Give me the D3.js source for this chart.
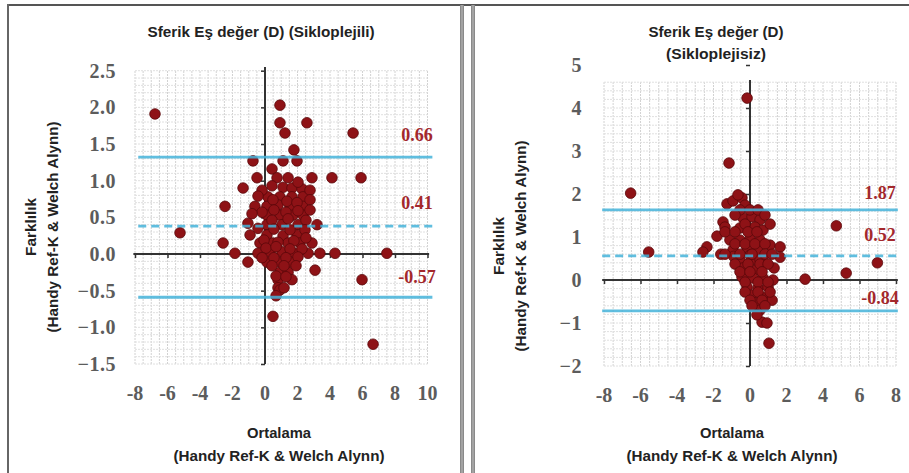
<!DOCTYPE html>
<html>
<head>
<meta charset="utf-8">
<script src="https://cdn.jsdelivr.net/npm/d3@7/dist/d3.min.js"></script>
<style>
  body { margin: 0; background: #fff; }
  svg { display: block; }
</style>
</head>
<body>
<svg id="chart" width="909" height="473"></svg>
<script>
// left panel: Sikloplejili
var leftX = [-6.77, -5.23, 0.92, 0.92, 1.23, 2.58, 5.42, 1.78, -0.74, 1.11, 1.97, 0.43, -0.49, 0.74, 1.42, 2.89, 4.12, 5.91,
  -1.35, 1.11, 1.66, 2.28, 0.18, 0.92, 1.66, 2.34, -2.46, -0.62, 0.12, 0.80, 1.54, 2.34, 0.12, 0.92, 1.72, 2.34,
  -1.05, 0.12, 1.05, 2.03, 3.2, -0.92, 0.12, 1.11, 1.97, -2.58, -0.31, 0.49, 1.42, 2.15, 2.89,
  -1.85, -0.43, 0.31, 1.05, 1.85, 2.65, 3.38, 4.31, 7.5, -1.05, 0.12, 0.92, 1.54, 3.08, 0.92, 1.42,
  0.8, 1.66, 5.97, 0.8, 0.92, 0.49, 6.65,
  -0.18, 0.43, 2.03, 2.77, 0.49, 1.35, 1.97, 2.77, -0.18, 0.55, 1.29, 2.03, 2.77, 0.43, 1.42, 2.52,
  -0.43, 0.55, 1.54, 2.46, -0.06, 0.80, 1.78, 2.52, 0.06, 0.68, 1.54, 2.28, -0.18, 0.55, 1.29, 2.03,
  0.43, 1.17, 1.91, 0.68, 1.29, 1.17, 0.68, -0.43, -0.80];
var leftY = [1.91, 0.29, 2.03, 1.79, 1.65, 1.79, 1.65, 1.42, 1.27, 1.27, 1.27, 1.16, 1.04, 1.04, 1.04, 1.04, 1.04, 1.04,
  0.90, 0.91, 0.90, 0.89, 0.78, 0.78, 0.78, 0.78, 0.65, 0.65, 0.65, 0.67, 0.65, 0.65, 0.53, 0.53, 0.53, 0.53,
  0.42, 0.40, 0.40, 0.40, 0.40, 0.26, 0.26, 0.25, 0.26, 0.15, 0.15, 0.15, 0.15, 0.15, 0.15,
  0.01, 0.01, 0.03, 0.03, 0.01, 0.01, 0.01, 0.01, 0.01, -0.11, -0.11, -0.11, -0.11, -0.22, -0.25, -0.25,
  -0.35, -0.35, -0.35, -0.46, -0.49, -0.85, -1.23,
  0.87, 0.93, 0.98, 0.87, 0.74, 0.72, 0.70, 0.74, 0.57, 0.60, 0.57, 0.59, 0.60, 0.46, 0.48, 0.46,
  0.35, 0.34, 0.33, 0.33, 0.19, 0.16, 0.18, 0.22, 0.08, 0.10, 0.07, 0.07, -0.05, -0.05, -0.05, -0.04,
  -0.16, -0.16, -0.16, -0.30, -0.31, -0.46, -0.57, 0.79, 0.55];
var leftLimits = [1.32, 0.38, -0.59];        // drawn line positions
var leftLabels = ["0.66", "0.41", "-0.57"];  // printed labels
var leftYTicks = [-1.5, -1.0, -0.5, 0.0, 0.5, 1.0, 1.5, 2.0, 2.5];
var leftXTicks = [-8, -6, -4, -2, 0, 2, 4, 6, 8, 10];

// right panel: Sikloplejisiz
var rightX = [-0.16, -1.15, -6.54, -1.26, -0.93, -0.44, -0.27, -0.66, 4.73, -1.48, -1.37, -0.38, 0.11, 0.55, -0.55, 0.27, 0.71,
  -1.81, -1.10, -0.55, 0, 0.55, 1.10, 1.65, -2.36, -2.58, -0.93, -0.16, 0.44, -5.55, 1.65, -0.55, 0.11, 0.55,
  1.32, -0.38, 0.27, -0.44, 0.16, 0.71, 1.26, 3.02, 5.27, 6.98, -0.16, 0.44, 0.99, 0.11, 0.71, 1.21, 0.27,
  0.55, 0.66, 0.93, 1.04, -1.6, -0.9, 0.0,
  -0.55, 0, 0.44, -0.82, 0.82, -0.27, 1.10, -1.37, -0.82, -0.11, 0.38, -0.82, -0.27, 0.27, 0.82,
  -1.37, -0.55, 0.11, 0.82, 1.21, -0.82, -0.11, 0.55, 0.99, -0.55, 0, 0.66, -0.27, 0.44, 0.99,
  -0.27, 0.44, 1.10, 0, 0.66, 0.11, 0.82, 0.38];
var rightY = [4.23, 2.72, 2.02, 1.77, 1.84, 1.91, 1.74, 1.98, 1.26, 1.35, 1.23, 1.44, 1.47, 1.40, 1.21, 1.23, 1.16,
  1.02, 0.93, 0.93, 0.95, 0.93, 0.81, 0.77, 0.77, 0.65, 0.70, 0.74, 0.70, 0.65, 0.53, 0.47, 0.47, 0.47,
  0.28, 0.28, 0.23, 0.07, 0.05, 0.05, 0.0, 0.02, 0.16, 0.40, -0.16, -0.19, -0.16, -0.35, -0.40, -0.47, -0.53,
  -0.70, -0.98, -1.0, -1.47, 0.6, 0.55, 0.58,
  1.63, 1.63, 1.63, 1.51, 1.51, 1.30, 1.30, 1.12, 1.12, 1.12, 1.12, 0.84, 0.84, 0.84, 0.84,
  0.60, 0.60, 0.60, 0.60, 0.60, 0.37, 0.37, 0.37, 0.37, 0.19, 0.19, 0.19, -0.05, -0.05, -0.05,
  -0.28, -0.28, -0.28, -0.47, -0.47, -0.60, -0.60, -0.81];
var rightLimits = [1.63, 0.56, -0.72];
var rightLabels = ["1.87", "0.52", "-0.84"];
var rightYTicks = [-2, -1, 0, 1, 2, 3, 4, 5];
var rightXTicks = [-8, -6, -4, -2, 0, 2, 4, 6, 8];

var svg = d3.select("#chart");
var SANS = "'Liberation Sans', Arial, sans-serif";
var SERIF = "'Liberation Serif', 'Times New Roman', serif";

// bold narrow label squeezed to the width measured on the reference
function fitText(sel, x, y, str, len) {
  return sel.append("tspan").attr("x", x).attr("y", y)
    .attr("textLength", len).attr("lengthAdjust", "spacingAndGlyphs").text(str);
}

function drawPanel(cfg) {
  var x = d3.scaleLinear().domain(cfg.xDomain).range(cfg.xRange);
  var y = d3.scaleLinear().domain(cfg.yDomain).range(cfg.yRange);
  var g = svg.append("g");

  var gx0 = cfg.gridX[0], gx1 = cfg.gridX[1];
  var gy0 = cfg.gridY[0], gy1 = cfg.gridY[1];

  // fine grid
  g.selectAll(".vg").data(d3.range(gx0, gx1 + 0.001, cfg.gridStepX))
    .enter().append("line")
    .attr("x1", function(d){ return x(d); }).attr("x2", function(d){ return x(d); })
    .attr("y1", y(gy0)).attr("y2", y(gy1))
    .style("stroke", "#d2d2d2").style("stroke-width", 1).style("stroke-dasharray", "2,1");
  g.selectAll(".hg").data(d3.range(gy0, gy1 + 0.001, cfg.gridStepY))
    .enter().append("line")
    .attr("x1", x(gx0)).attr("x2", x(gx1))
    .attr("y1", function(d){ return y(d); }).attr("y2", function(d){ return y(d); })
    .style("stroke", "#e0e0e0").style("stroke-width", 1).style("stroke-dasharray", "2,1");

  // axes through origin
  var xAxis = d3.axisBottom(x).tickValues(cfg.xTicks).tickSize(4).tickFormat("");
  var yAxis = d3.axisLeft(y).tickValues(cfg.yTicks).tickSize(4).tickFormat("");
  var ax = g.append("g").attr("transform", "translate(0," + y(0) + ")").call(xAxis);
  ax.select(".domain").attr("d", "M" + x(cfg.axisX[0]) + ",0H" + x(cfg.axisX[1]));
  var ay = g.append("g").attr("transform", "translate(" + x(0) + ",0)").call(yAxis);
  ay.select(".domain").attr("d", "M0," + y(cfg.axisY[1]) + "V" + y(cfg.axisY[0]));
  g.selectAll(".domain").style("stroke", "#333").style("stroke-width", 2);
  g.selectAll(".tick line").style("stroke", "#333").style("stroke-width", 1.5);
  g.selectAll(".tick").filter(function(d){ return d === 0; }).remove();

  // tick labels at the frame edges
  g.selectAll(".ylab").data(cfg.yTicks).enter().append("text")
    .attr("x", cfg.yLabelX).attr("y", function(d){ return y(d) + 7; })
    .attr("text-anchor", "end")
    .style("font-family", SERIF).style("font-size", "20px")
    .style("font-weight", "bold").style("fill", "#5c5c5c").style("letter-spacing", "0.5px")
    .text(function(d){ return cfg.yFmt(d); });
  g.selectAll(".xlab").data(cfg.xTicks).enter().append("text")
    .attr("x", function(d){ return x(d); }).attr("y", cfg.xLabelY)
    .attr("text-anchor", "middle")
    .style("font-family", SERIF).style("font-size", "20px")
    .style("font-weight", "bold").style("fill", "#5c5c5c")
    .text(function(d){ return d; });

  // points
  g.selectAll(".pt").data(cfg.xs).enter().append("circle")
    .attr("cx", function(d){ return x(d); })
    .attr("cy", function(d, i){ return y(cfg.ys[i]); })
    .attr("r", 5.3)
    .style("fill", "#8e1216").style("stroke", "#5a080a").style("stroke-width", 0.8);

  // limit lines
  g.selectAll(".lim").data(cfg.limits).enter().append("line")
    .attr("x1", x(cfg.lineX[0])).attr("x2", x(cfg.lineX[1]))
    .attr("y1", function(d){ return y(d); }).attr("y2", function(d){ return y(d); })
    .style("stroke", "#45b3da").style("stroke-width", 2.8).style("opacity", 0.85)
    .style("stroke-dasharray", function(d, i){ return i === 1 ? "8,5" : null; });

  g.selectAll(".limlab").data(cfg.labels).enter().append("text")
    .attr("x", cfg.labelX).attr("y", function(d, i){ return cfg.labelY[i]; })
    .attr("text-anchor", "middle")
    .style("font-family", SERIF).style("font-size", "18px")
    .style("font-weight", "bold").style("fill", "#a3282c")
    .text(function(d){ return d; });

  // titles
  var tt = g.append("text").attr("text-anchor", "middle")
    .style("font-family", SANS).style("font-size", "15px")
    .style("font-weight", "bold").style("fill", "#222");
  cfg.title.forEach(function(t, i){
    fitText(tt, cfg.titleX, cfg.titleY + i * 22, t, cfg.titleLen[i]);
  });

  var xt = g.append("text").attr("text-anchor", "middle")
    .style("font-family", SANS).style("font-size", "15px")
    .style("font-weight", "bold").style("fill", "#222");
  fitText(xt, cfg.xTitleX, 438, "Ortalama", 64);
  fitText(xt, cfg.xTitleX, 461, "(Handy Ref-K & Welch Alynn)", 211);

  var yt = g.append("text").attr("text-anchor", "middle")
    .attr("transform", "translate(" + cfg.yTitleX + "," + cfg.yTitleY + ") rotate(-90)")
    .style("font-family", SANS).style("font-size", "15px")
    .style("font-weight", "bold").style("fill", "#222");
  fitText(yt, 0, 0, "Farklılık", 58);
  fitText(yt, 0, 22, "(Handy Ref-K & Welch Alynn)", 211);
}

drawPanel({
  xs: leftX, ys: leftY, limits: leftLimits, labels: leftLabels,
  xDomain: [-8, 10], xRange: [135, 427.5],
  yDomain: [-1.5, 2.5], yRange: [364, 70.7],
  gridX: [-8, 10], gridY: [-1.5, 2.5], gridStepX: 0.5, gridStepY: 0.1,
  axisX: [-8.1, 10.1], axisY: [-1.5, 2.55],
  xTicks: leftXTicks, yTicks: leftYTicks,
  yFmt: d3.format(".1f"), yLabelX: 116, xLabelY: 400,
  lineX: [-7.8, 10.3],
  labelX: 417, labelY: [141, 209, 283],
  title: ["Sferik Eş değer (D) (Sikloplejili)"], titleLen: [227], titleX: 261, titleY: 37,
  xTitleX: 279, yTitleX: 36, yTitleY: 227
});

drawPanel({
  xs: rightX, ys: rightY, limits: rightLimits, labels: rightLabels,
  xDomain: [-8, 8], xRange: [604, 896],
  yDomain: [-2, 5], yRange: [366, 65],
  gridX: [-8, 8], gridY: [-2, 4.6], gridStepX: 0.5, gridStepY: 0.2,
  axisX: [-8.1, 8.1], axisY: [-2, 4.65],
  xTicks: rightXTicks, yTicks: rightYTicks,
  yFmt: d3.format("d"), yLabelX: 582, xLabelY: 402,
  lineX: [-8.1, 8.1],
  labelX: 880, labelY: [199, 241, 304],
  title: ["Sferik Eş değer (D)", "(Sikloplejisiz)"], titleLen: [135, 100], titleX: 716, titleY: 37,
  xTitleX: 732, yTitleX: 504, yTitleY: 246
});

// frame
svg.append("line").attr("x1", 8).attr("x2", 909).attr("y1", 5).attr("y2", 5)
  .style("stroke", "#555").style("stroke-width", 2);
svg.append("line").attr("x1", 8).attr("x2", 8).attr("y1", 4).attr("y2", 473)
  .style("stroke", "#666").style("stroke-width", 2);
[462, 473].forEach(function(px){
  svg.append("rect").attr("x", px - 2).attr("y", 5).attr("width", 4).attr("height", 468)
    .style("fill", "#8a8a8a");
  svg.append("rect").attr("x", px - 0.5).attr("y", 5).attr("width", 1).attr("height", 468)
    .style("fill", "#bbb");
});
</script>
</body>
</html>
